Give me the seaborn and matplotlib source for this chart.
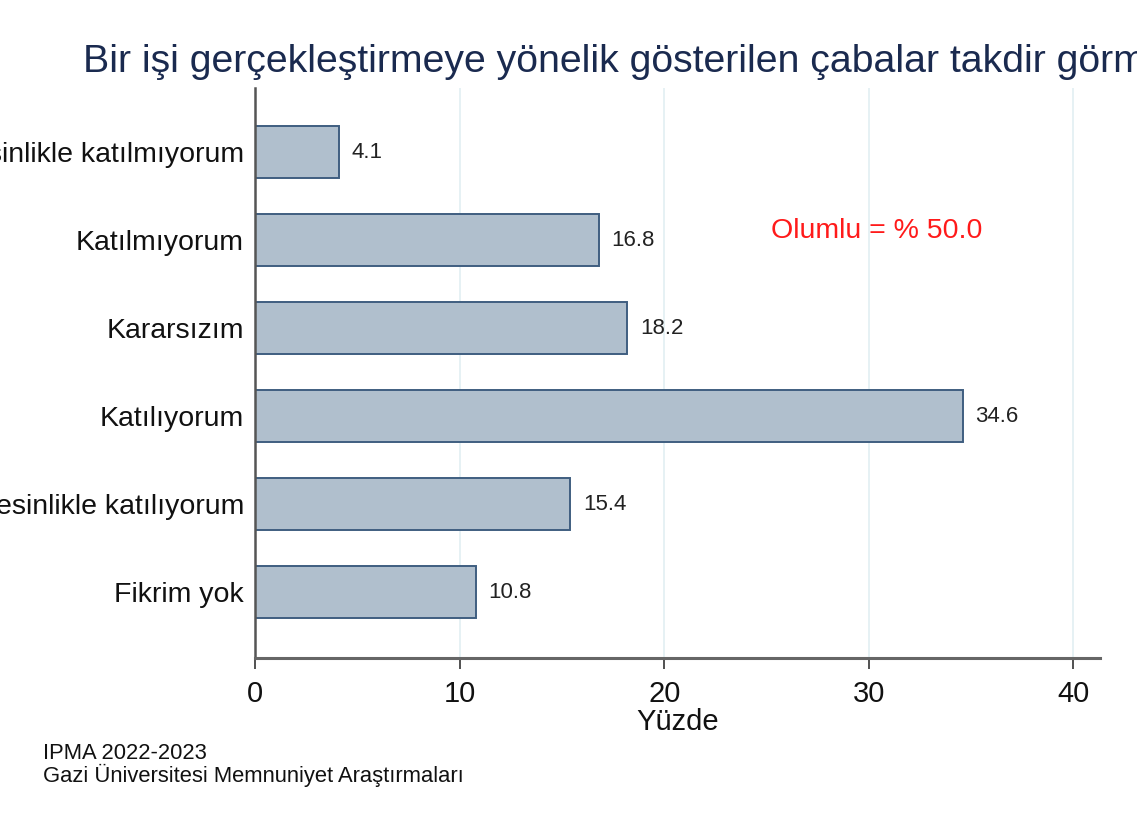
import pandas as pd
import matplotlib
matplotlib.use("Agg")
import matplotlib.pyplot as plt
import seaborn as sns

# Survey answers and shares (%)
categories = ["Kesinlikle katılmıyorum", "Katılmıyorum", "Kararsızım",
              "Katılıyorum", "Kesinlikle katılıyorum", "Fikrim yok"]
values = [4.1, 16.8, 18.2, 34.6, 15.4, 10.8]
xticks = [0, 10, 20, 30, 40]

title = "Bir işi gerçekleştirmeye yönelik gösterilen çabalar takdir görmektedir"
note = "Olumlu = % 50.0"
source = "IPMA 2022-2023\nGazi Üniversitesi Memnuniyet Araştırmaları"

df = pd.DataFrame({"Cevap": categories, "Yuzde": values})

sns.set_style("white")
plt.rcParams["font.family"] = ["Liberation Sans", "DejaVu Sans"]

fig = plt.figure(figsize=(11.37, 8.19), dpi=100)
W, H = 1137, 819
ax = fig.add_axes([255 / W, 1 - 658 / H, (1100 - 255) / W, (658 - 88) / H])

ax.grid(axis="x", color="#e6f1f4", linewidth=1.4, zorder=0)
ax.set_axisbelow(True)

sns.barplot(data=df, x="Yuzde", y="Cevap", orient="h", color="#b0bfcd",
            edgecolor="#3f5e80", linewidth=1.4, width=0.59, saturation=1,
            ax=ax, zorder=2)

# value labels next to each bar
for i, v in enumerate(values):
    ax.text(v + 0.62, i, f"{v:.1f}", va="center", ha="left",
            fontsize=16, color="#222222")

ax.text(25.2, 0.9, note, color="#ff1a1a", fontsize=20.5, va="center", ha="left")

ax.set_xlim(0, 41.3)
ax.set_ylim(5.75, -0.73)
ax.set_xticks(xticks)
ax.set_xlabel("Yüzde", fontsize=21, labelpad=0, color="#111111")
ax.set_ylabel("")
ax.tick_params(axis="x", labelsize=21, length=8, width=1.2, color="#333333",
               pad=8, bottom=True, labelcolor="#111111")
ax.tick_params(axis="y", labelsize=20.5, length=0, pad=8, labelcolor="#111111")

sns.despine(ax=ax, top=True, right=True)
ax.spines["left"].set_color("#555555")
ax.spines["left"].set_linewidth(1.8)
ax.spines["bottom"].set_color("#666666")
ax.spines["bottom"].set_linewidth(2.2)

fig.text(83 / W, 1 - 62 / H, title, fontsize=28.3, color="#1a2a4f",
         ha="left", va="center")
fig.text(43 / W, 1 - 765 / H, source, fontsize=15.8, color="#111111",
         ha="left", va="center", linespacing=1.0)

fig.savefig("out.png", dpi=100)
